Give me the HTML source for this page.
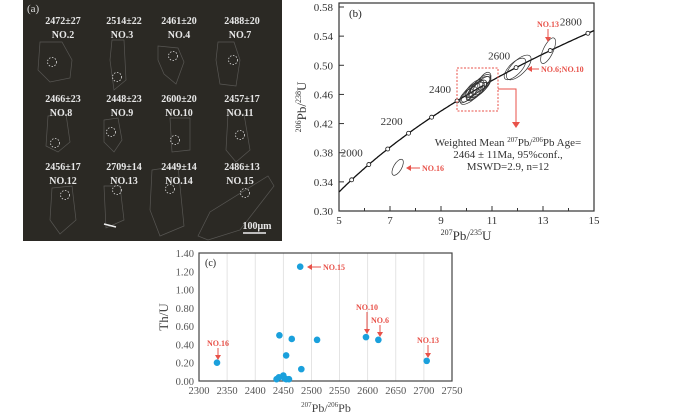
<!DOCTYPE html>
<html><head><meta charset="utf-8"><style>
body{margin:0;background:#fff;}
svg{display:block;font-family:"Liberation Serif",serif;}
</style></head><body>
<svg width="700" height="414">
<g>
<rect x="23" y="0" width="259" height="241" fill="#2b2924"/>
<text x="27" y="12" fill="#ddd" font-size="11">(a)</text>
<g id="grains" fill="none" stroke="#aaa" stroke-width="0.7" opacity="0.35">
<path d="M40 42 L62 42 L72 60 L70 78 L50 82 L38 70 Z"/>
<path d="M112 40 L124 40 L126 80 L114 90 L110 60 Z"/>
<path d="M158 46 L178 48 L184 62 L176 84 L164 74 L158 60 Z"/>
<path d="M218 42 L234 42 L240 60 L236 86 L220 84 L216 60 Z"/>
<path d="M48 116 L66 114 L70 142 L58 152 L46 146 Z"/>
<path d="M104 120 L118 118 L122 140 L114 152 L104 142 Z"/>
<path d="M170 118 L190 118 L190 150 L172 152 Z"/>
<path d="M228 114 L244 114 L250 150 L236 162 L226 150 Z"/>
<path d="M52 188 L72 186 L76 220 L60 234 L50 220 Z"/>
<path d="M104 186 L120 186 L124 220 L106 228 Z"/>
<path d="M152 170 L178 166 L184 226 L160 236 L150 210 Z"/>
<path d="M198 236 L210 212 L268 176 L274 186 L240 230 L208 240 Z"/>
</g>
<g fill="none" stroke="#ddd" stroke-width="0.8" stroke-dasharray="1.5,1.5">
<circle cx="52" cy="62" r="4.5"/><circle cx="117" cy="77" r="4.5"/><circle cx="173" cy="56" r="4.5"/><circle cx="233" cy="60" r="4.5"/>
<circle cx="55" cy="143" r="4.5"/><circle cx="111" cy="132" r="4.5"/><circle cx="175" cy="140" r="4.5"/><circle cx="240" cy="135" r="4.5"/>
<circle cx="65" cy="195" r="4.5"/><circle cx="117" cy="190" r="4.5"/><circle cx="170" cy="189" r="4.5"/><circle cx="245" cy="193" r="4.5"/>
</g>
<g fill="#e8e8e8" font-size="10" text-anchor="middle" font-weight="bold">
<text x="63" y="24">2472±27</text><text x="63" y="38">NO.2</text>
<text x="124" y="24">2514±22</text><text x="122" y="38">NO.3</text>
<text x="179" y="24">2461±20</text><text x="179" y="38">NO.4</text>
<text x="242" y="24">2488±20</text><text x="240" y="38">NO.7</text>
<text x="63" y="102">2466±23</text><text x="61" y="116">NO.8</text>
<text x="124" y="102">2448±23</text><text x="122" y="116">NO.9</text>
<text x="179" y="102">2600±20</text><text x="179" y="116">NO.10</text>
<text x="242" y="102">2457±17</text><text x="240" y="116">NO.11</text>
<text x="63" y="170">2456±17</text><text x="63" y="184">NO.12</text>
<text x="124" y="170">2709±14</text><text x="124" y="184">NO.13</text>
<text x="179" y="170">2449±14</text><text x="179" y="184">NO.14</text>
<text x="242" y="170">2486±13</text><text x="240" y="184">NO.15</text>
<text x="257" y="229">100μm</text>
</g>
<line x1="243" y1="233" x2="266" y2="233" stroke="#eee" stroke-width="1.5"/>
<line x1="104" y1="224" x2="116" y2="227" stroke="#eee" stroke-width="1.5"/>
</g>
<g id="pb"></g>
<g id="pc"></g>
</svg>
<script>
var NS="http://www.w3.org/2000/svg";
function mk(p,t,a,txt){var e=document.createElementNS(NS,t);for(var k in a)e.setAttribute(k,a[k]);if(txt!==undefined)e.textContent=txt;p.appendChild(e);return e;}
// ---- panel b data ----
var bXTicks=[5,7,9,11,13,15];
var bYTicks=[0.30,0.34,0.38,0.42,0.46,0.50,0.54,0.58];
var ageMarks=[1900,2000,2100,2200,2300,2400,2500,2600,2700,2800];
var ageLabels=[2000,2200,2400,2600,2800];
var ellX=[10.2,10.4,10.3,10.5,10.1,10.6,10.35,10.25,10.45,10.7,10.0,10.55,11.9,12.05,13.2,7.3];
var ellY=[0.462,0.466,0.468,0.470,0.460,0.472,0.464,0.466,0.468,0.478,0.458,0.474,0.495,0.497,0.52,0.36];
var ellRx=[15,13,12,14,10,12,12,9,11,10,9,13,14,16,14,9];
var ellRy=[6,5,5,6,4,5,5,4,5,5,4,5,6,7,5,4];
var ellRot=[-45,-45,-45,-45,-45,-45,-45,-45,-45,-60,-45,-45,-45,-45,-65,-60];
var pb=document.getElementById('pb');
function bx(v){return 339+(v-5)*25.5;}
function by(v){return 211-(v-0.30)*728.6;}
var fr=mk(pb,'rect',{x:339,y:3,width:255,height:208,fill:'none',stroke:'#333','stroke-width':1.2});


bXTicks.forEach(function(v){mk(pb,'line',{x1:bx(v),y1:211,x2:bx(v),y2:206,stroke:'#333'});
 var t=mk(pb,'text',{x:bx(v),y:224,'font-size':11,'text-anchor':'middle',fill:'#333'},String(v));
 });
for(var v=6;v<15;v+=2)mk(pb,'line',{x1:bx(v),y1:211,x2:bx(v),y2:208,stroke:'#333'});
bYTicks.forEach(function(v){mk(pb,'line',{x1:339,y1:by(v),x2:344,y2:by(v),stroke:'#333'});
 var t=mk(pb,'text',{x:333,y:by(v)+4,'font-size':11,'text-anchor':'end',fill:'#333'},v.toFixed(2));
 });
var L8=1.55125e-4,L5=9.8485e-4;
function c206(t){return Math.exp(L8*t)-1;}function c207(t){return Math.exp(L5*t)-1;}
var d='';for(var t=1700;t<=2900;t+=5){var X=c207(t),Y=c206(t);if(X<5||X>15)continue;d+=(d?'L':'M')+bx(X).toFixed(1)+' '+by(Y).toFixed(1);}
var cc=mk(pb,'path',{d:d,fill:'none',stroke:'#111','stroke-width':1.3});

ageMarks.forEach(function(a){var X=c207(a);if(X<5||X>15)return;var m=mk(pb,'circle',{cx:bx(X),cy:by(c206(a)),r:2,fill:'#fff',stroke:'#111','stroke-width':0.8});
 });
ageLabels.forEach(function(a){var X=c207(a);var t=mk(pb,'text',{x:bx(X)-6,y:by(c206(a))-8,'font-size':11,'text-anchor':'end',fill:'#333'},String(a));
 });
ellX.forEach(function(x,i){var cx=bx(x),cy=by(ellY[i]);var e=mk(pb,'ellipse',{cx:cx,cy:cy,rx:ellRx[i],ry:ellRy[i],fill:'none',stroke:'#333','stroke-width':0.7,transform:'rotate('+ellRot[i]+' '+cx+' '+cy+')'});
 });
var RED='#e8524a';
mk(pb,'rect',{x:457,y:68,width:41,height:43,fill:'none',stroke:RED,'stroke-dasharray':'2,1.5'});
mk(pb,'path',{d:'M498 89 L516 89 L516 124',fill:'none',stroke:RED});
mk(pb,'path',{d:'M512 122 L516 128 L520 122 Z',fill:RED});
mk(pb,'text',{x:349,y:17,'font-size':11,fill:'#222'},'(b)');
var tx=mk(pb,'text',{x:508,y:146,'font-size':11,'text-anchor':'middle',fill:'#333'});

tx.innerHTML='Weighted Mean <tspan font-size="7" dy="-4">207</tspan><tspan dy="4">Pb/</tspan><tspan font-size="7" dy="-4">206</tspan><tspan dy="4">Pb Age=</tspan>';
mk(pb,'text',{x:508,y:158,'font-size':11,'text-anchor':'middle',fill:'#333'},'2464 ± 11Ma, 95%conf.,');
mk(pb,'text',{x:508,y:170,'font-size':11,'text-anchor':'middle',fill:'#333'},'MSWD=2.9, n=12');
function redLbl(x,y,s,anchor){var t=mk(pb,'text',{x:x,y:y,'font-size':8,'font-weight':'bold',fill:RED,'text-anchor':anchor||'start'},s);}
redLbl(422,171,'NO.16');mk(pb,'path',{d:'M420 168 L408 168',stroke:RED});mk(pb,'path',{d:'M406 168 L411 165 L411 171Z',fill:RED});
redLbl(541,72,'NO.6;NO.10');mk(pb,'path',{d:'M539 69 L530 69',stroke:RED});mk(pb,'path',{d:'M527 69 L532 66 L532 72Z',fill:RED});
redLbl(548,27,'NO.13','middle');mk(pb,'path',{d:'M548 29 L548 38',stroke:RED});mk(pb,'path',{d:'M548 42 L545 37 L551 37Z',fill:RED});
var yl=mk(pb,'text',{transform:'translate(306 107) rotate(-90)','font-size':13,'text-anchor':'middle',fill:'#333'});

yl.innerHTML='<tspan font-size="8" dy="-5">206</tspan><tspan dy="5">Pb/</tspan><tspan font-size="8" dy="-5">238</tspan><tspan dy="5">U</tspan>';
var xl=mk(pb,'text',{x:466,y:240,'font-size':13,'text-anchor':'middle',fill:'#333'});

xl.innerHTML='<tspan font-size="8" dy="-5">207</tspan><tspan dy="5">Pb/</tspan><tspan font-size="8" dy="-5">235</tspan><tspan dy="5">U</tspan>';
// ---- panel c data ----
var cXTicks=[2300,2350,2400,2450,2500,2550,2600,2650,2700,2750];
var cYTicks=[0,0.2,0.4,0.6,0.8,1.0,1.2,1.4];
var ageC=[2332,2443,2465,2510,2455,2482,2480,2597,2619,2705,2438,2442,2450,2455,2460,2452];
var thuC=[0.20,0.50,0.46,0.45,0.28,0.13,1.25,0.48,0.45,0.22,0.02,0.04,0.06,0.02,0.02,0.03];
var pc=document.getElementById('pc');
function cx(v){return 199+(v-2300)*(253/450);}
function cy(v){return 381-v*(128/1.4);}
cXTicks.forEach(function(v){if(v>2300&&v<2750)mk(pc,'line',{x1:cx(v),y1:253,x2:cx(v),y2:381,stroke:'#ddd','stroke-width':0.8});
 var t=mk(pc,'text',{x:cx(v),y:394,'font-size':10.5,'text-anchor':'middle',fill:'#555'},String(v));
 });
cYTicks.forEach(function(v){var t=mk(pc,'text',{x:194,y:cy(v)+4,'font-size':10.5,'text-anchor':'end',fill:'#555'},v.toFixed(2));
 });
var f2=mk(pc,'rect',{x:199,y:253,width:253,height:128,fill:'none',stroke:'#444','stroke-width':1.2});

ageC.forEach(function(a,i){var p=mk(pc,'circle',{cx:cx(a),cy:cy(thuC[i]),r:3.3,fill:'#1aa0dc'});
 });
mk(pc,'text',{x:205,y:266,'font-size':10,fill:'#222'},'(c)');
function rc(x,y,s,anchor){var t=mk(pc,'text',{x:x,y:y,'font-size':8,'font-weight':'bold',fill:RED,'text-anchor':anchor||'middle'},s);}
function down(x,y1,y2){mk(pc,'path',{d:'M'+x+' '+y1+' L'+x+' '+(y2-3),stroke:RED});mk(pc,'path',{d:'M'+x+' '+y2+' L'+(x-3)+' '+(y2-5)+' L'+(x+3)+' '+(y2-5)+'Z',fill:RED});}
rc(218,346,'NO.16');down(218,348,360);
rc(367,310,'NO.10');down(367,312,334);
rc(380,323,'NO.6');down(380,325,337);
rc(428,343,'NO.13');down(428,345,358);
rc(323,270,'NO.15','start');mk(pc,'path',{d:'M321 267 L310 267',stroke:RED});mk(pc,'path',{d:'M307 267 L312 264 L312 270Z',fill:RED});
var cyl=mk(pc,'text',{transform:'translate(168 317) rotate(-90)','font-size':13,'text-anchor':'middle',fill:'#444'},'Th/U');

var cxl=mk(pc,'text',{x:326,y:412,'font-size':12,'text-anchor':'middle',fill:'#444'});

cxl.innerHTML='<tspan font-size="7" dy="-5">207</tspan><tspan dy="5">Pb/</tspan><tspan font-size="7" dy="-5">206</tspan><tspan dy="5">Pb</tspan>';
</script>
</body></html>
